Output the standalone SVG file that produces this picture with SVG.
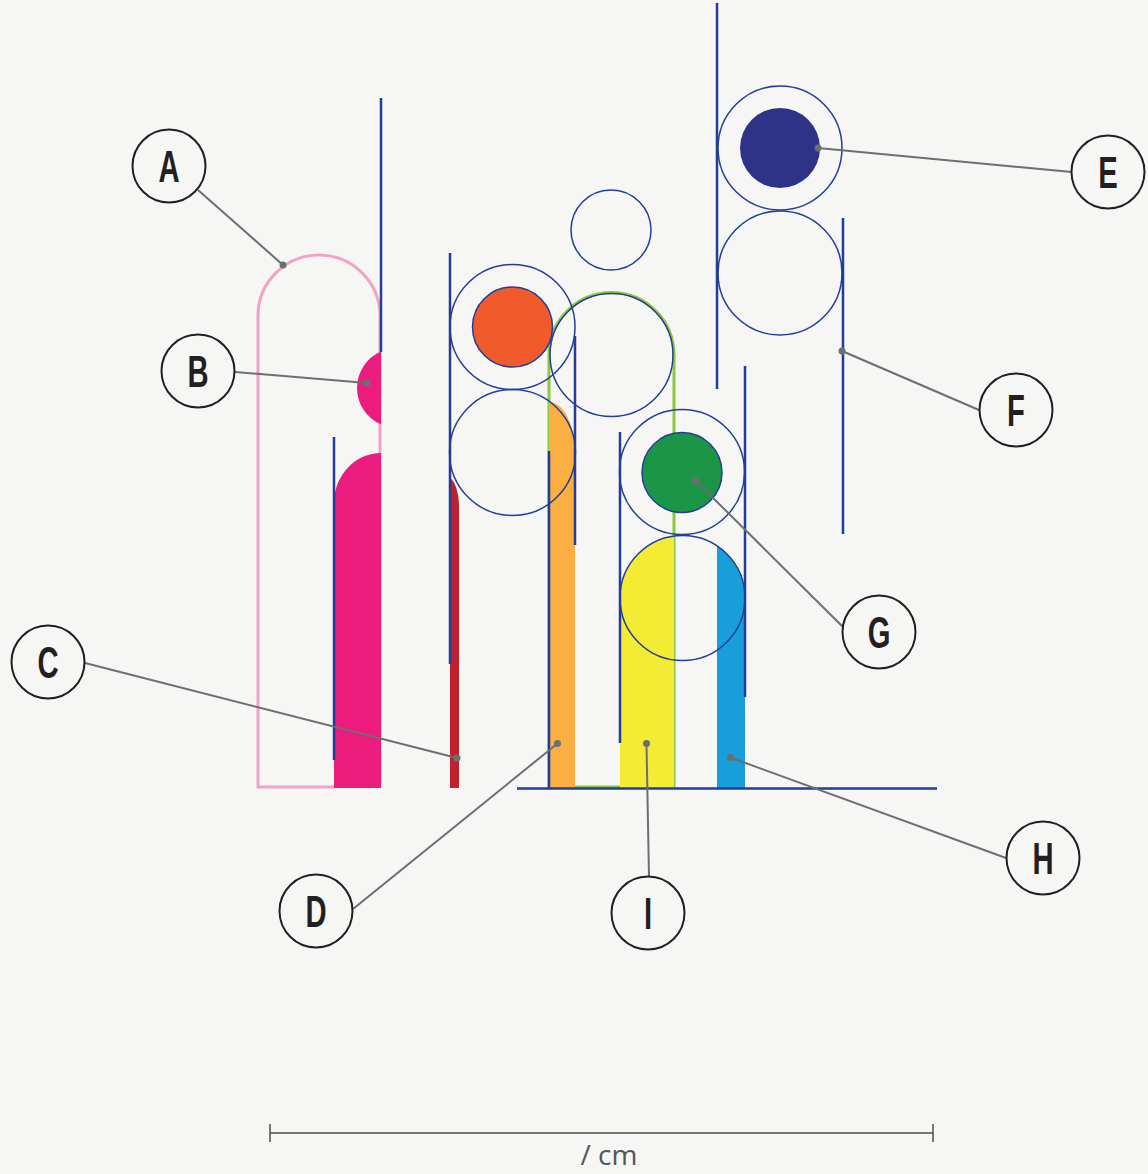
<svg xmlns="http://www.w3.org/2000/svg" width="1148" height="1174" viewBox="0 0 1148 1174">
<style>
.bl{stroke:#233E98;stroke-width:2.5;fill:none}
.ci{stroke:#233E98;stroke-width:1.5;fill:none}
.ld{stroke:#6D6E70;stroke-width:2;fill:none}
.dot{fill:#6D6E70}
.lc{fill:#F6F6F4;stroke:#231F20;stroke-width:2}
.lt{font-family:"Liberation Sans",Arial,sans-serif;font-weight:bold;font-size:45px;fill:#231F20;text-anchor:middle}
</style>
<rect width="1148" height="1174" fill="#F6F6F4"/>
<g id="shapes">
<path id="pink-arch" d="M334,787 H258 V316 A61,61 0 0 1 380,316 V787" fill="none" stroke="#F0A3C8" stroke-width="3"/>
<path id="magenta-small" d="M381,351.5 A39.75,39.75 0 0 0 381,424.5 Z" fill="#EC1C7E"/>
<path id="magenta-bar" d="M334,788 V503 A47,50 0 0 1 381,453 V788 Z" fill="#EC1C7E"/>
<path id="red-bar" d="M450,788 V478 A12,30 0 0 1 459,505 V788 Z" fill="#C1202F"/>
<path id="green-stadium" d="M549,787 V355 A62.5,62.5 0 0 1 674,355 V787 H549" fill="none" stroke="#8DC63F" stroke-width="3"/>
<path id="orange-bar" d="M549,788 V402 A26,50 0 0 1 575,452 V788 Z" fill="#FAAF40"/>
<path id="yellow-bar" d="M620,788 V598 A62.5,62.5 0 0 1 674,536.1 V788 Z" fill="#F4EC34"/>
<path id="blue-bar" d="M717,788 V545.9 A62.5,62.5 0 0 1 745,598 V788 Z" fill="#189FD9"/>
</g>
<g id="lines">
<line class="bl" x1="381" y1="98" x2="381" y2="352"/>
<line class="bl" x1="334" y1="437" x2="334" y2="760"/>
<line class="bl" x1="450" y1="253" x2="450" y2="664"/>
<line class="bl" x1="575" y1="336" x2="575" y2="545"/>
<line class="bl" x1="549" y1="451" x2="549" y2="788"/>
<line class="bl" x1="620" y1="432" x2="620" y2="743"/>
<line class="bl" x1="745" y1="366" x2="745" y2="697"/>
<line class="bl" x1="717" y1="3" x2="717" y2="389"/>
<line class="bl" x1="843" y1="218" x2="843" y2="534"/>
<line class="bl" x1="517" y1="788.5" x2="937" y2="788.5"/>
</g>
<g id="circles">
<circle class="ci" cx="512.5" cy="327" r="62.5"/>
<circle class="ci" cx="512.5" cy="452.5" r="63"/>
<circle class="ci" cx="611" cy="230" r="40"/>
<circle class="ci" cx="611.5" cy="355" r="61.5"/>
<circle class="ci" cx="682" cy="472" r="62.5"/>
<circle class="ci" cx="682.5" cy="598" r="62.5"/>
<circle class="ci" cx="780" cy="148" r="62"/>
<circle class="ci" cx="780" cy="273" r="62"/>
<circle cx="512.5" cy="327" r="40" fill="#F15A2B" stroke="#233E98" stroke-width="1.5"/>
<circle cx="682" cy="472.5" r="40" fill="#1A9646" stroke="#233E98" stroke-width="1.5"/>
<circle cx="780" cy="148" r="40" fill="#2E3388"/>
</g>
<g id="connectors">
<line class="ld" x1="198" y1="190" x2="283" y2="265"/><circle class="dot" cx="283" cy="265" r="3.5"/>
<line class="ld" x1="235" y1="372" x2="367" y2="383"/><circle class="dot" cx="367" cy="383" r="3.5"/>
<line class="ld" x1="85" y1="663" x2="457" y2="758"/><circle class="dot" cx="457" cy="758" r="3.5"/>
<line class="ld" x1="353" y1="909" x2="557.5" y2="743.5"/><circle class="dot" cx="557.5" cy="743.5" r="3.5"/>
<line class="ld" x1="1072" y1="172" x2="818" y2="148"/><circle class="dot" cx="818" cy="148" r="3.5"/>
<line class="ld" x1="979" y1="410" x2="842" y2="351"/><circle class="dot" cx="842" cy="351" r="3.5"/>
<line class="ld" x1="842" y1="626" x2="695.5" y2="480.5"/><circle class="dot" cx="695.5" cy="480.5" r="3.5"/>
<line class="ld" x1="1006" y1="858" x2="730.5" y2="757.5"/><circle class="dot" cx="730.5" cy="757.5" r="3.5"/>
<line class="ld" x1="649" y1="877" x2="646.5" y2="743.5"/><circle class="dot" cx="646.5" cy="743.5" r="3.5"/>
</g>
<g id="label-A"><circle class="lc" cx="169" cy="166" r="36.5"/><text class="lt" transform="translate(169,182) scale(0.65,1)">A</text></g>
<g id="label-B"><circle class="lc" cx="198" cy="371" r="36.5"/><text class="lt" transform="translate(198,387) scale(0.65,1)">B</text></g>
<g id="label-C"><circle class="lc" cx="48" cy="662" r="36.5"/><text class="lt" transform="translate(48,678) scale(0.65,1)">C</text></g>
<g id="label-D"><circle class="lc" cx="316" cy="911" r="36.5"/><text class="lt" transform="translate(316,927) scale(0.65,1)">D</text></g>
<g id="label-E"><circle class="lc" cx="1108" cy="172" r="36.5"/><text class="lt" transform="translate(1108,188) scale(0.65,1)">E</text></g>
<g id="label-F"><circle class="lc" cx="1016" cy="410" r="36.5"/><text class="lt" transform="translate(1016,426) scale(0.65,1)">F</text></g>
<g id="label-G"><circle class="lc" cx="879" cy="632" r="36.5"/><text class="lt" transform="translate(879,648) scale(0.65,1)">G</text></g>
<g id="label-H"><circle class="lc" cx="1043" cy="858" r="36.5"/><text class="lt" transform="translate(1043,874) scale(0.65,1)">H</text></g>
<g id="label-I"><circle class="lc" cx="648" cy="913" r="36.5"/><text class="lt" transform="translate(648,929) scale(0.65,1)">I</text></g>
<g id="scale-bar">
<line x1="270" y1="1133" x2="933" y2="1133" stroke="#4D4D4D" stroke-width="1.5"/>
<line x1="270" y1="1124" x2="270" y2="1142" stroke="#4D4D4D" stroke-width="1.5"/>
<line x1="933" y1="1124" x2="933" y2="1142" stroke="#4D4D4D" stroke-width="1.5"/>
<text x="609" y="1165" font-family="'Open Sans','Liberation Sans',sans-serif" font-size="28" fill="#555555" text-anchor="middle">/ cm</text>
</g>
</svg>
